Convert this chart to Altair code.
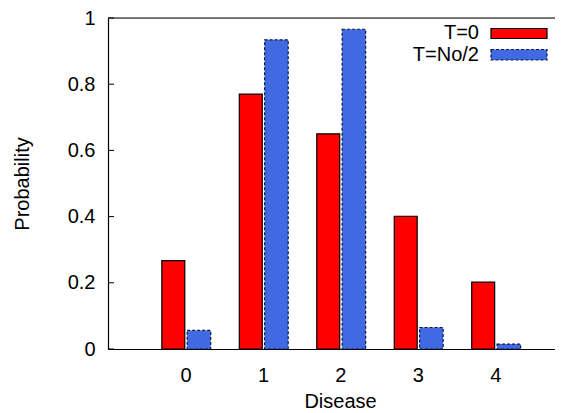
import altair as alt
import pandas as pd

disease = [0, 1, 2, 3, 4]
series_names = ["T=0", "T=No/2"]
t0_values = [0.267, 0.770, 0.650, 0.401, 0.202]
tno2_values = [0.056, 0.934, 0.966, 0.065, 0.015]
y_ticks = [0, 0.2, 0.4, 0.6, 0.8, 1]
colors = ["#ff0000", "#4169e1"]

FONT = "Liberation Sans"
FS = 20

df0 = pd.DataFrame({"disease": disease, "value": t0_values, "series": series_names[0]})
df1 = pd.DataFrame({"disease": disease, "value": tno2_values, "series": series_names[1]})
ticks_df = pd.DataFrame({"tick": y_ticks})

xscale = alt.Scale(domain=[-1, 4.77], nice=False, zero=False)
yscale = alt.Scale(domain=[0, 1], nice=False)

xaxis = alt.Axis(values=disease, format="d", ticks=False, grid=False, labelFontSize=FS,
                 labelFont=FONT, labelColor="black", labelPadding=16, domainColor="black",
                 domainWidth=1.2, title="Disease", titleFontSize=FS, titleFont=FONT,
                 titleFontWeight="normal", titleColor="black", titleX=232, titleY=52,
                 titleBaseline="middle")
yaxis = alt.Axis(values=y_ticks, format="~g", ticks=False, grid=False, labelFontSize=FS,
                 labelFont=FONT, labelColor="black", labelPadding=13, domainColor="black",
                 domainWidth=1.2, title="Probability", titleFontSize=FS, titleFont=FONT,
                 titleFontWeight="normal", titleColor="black", titleX=-86, titleY=165.5,
                 titleBaseline="middle")

red = alt.Chart(df0).transform_calculate(
    x1="datum.disease - 0.305", x2="datum.disease - 0.009"
).mark_bar(fill=colors[0], stroke="black", strokeWidth=1.2).encode(
    x=alt.X("x1:Q", scale=xscale, axis=xaxis),
    x2="x2:Q",
    y=alt.Y("value:Q", scale=yscale, axis=yaxis),
    y2=alt.datum(0),
)

blue = alt.Chart(df1).transform_calculate(
    x1="datum.disease + 0.022", x2="datum.disease + 0.326"
).mark_bar(fill=colors[1], stroke="#0b1a40", strokeWidth=1.2, strokeDash=[3, 2]).encode(
    x=alt.X("x1:Q", scale=xscale),
    x2="x2:Q",
    y=alt.Y("value:Q", scale=yscale),
    y2=alt.datum(0),
)

inner_ticks = alt.Chart(ticks_df).mark_rule(color="black", strokeWidth=1).encode(
    y=alt.Y("tick:Q", scale=yscale),
    x=alt.value(0),
    x2=alt.value(6),
)

top_border = alt.Chart(pd.DataFrame({"v": [1]})).mark_rule(color="black", strokeWidth=1.2).encode(
    y=alt.Y("v:Q", scale=yscale)
)

one = pd.DataFrame({"a": [0]})
leg_t0 = alt.Chart(pd.DataFrame({"name": [series_names[0]]})).mark_text(
    align="right", baseline="middle", fontSize=FS, font=FONT, color="black"
).encode(text="name:N", x=alt.value(371), y=alt.value(15))
leg_t1 = alt.Chart(pd.DataFrame({"name": [series_names[1]]})).mark_text(
    align="right", baseline="middle", fontSize=FS, font=FONT, color="black"
).encode(text="name:N", x=alt.value(371), y=alt.value(37))
sw0 = alt.Chart(one).mark_rect(fill=colors[0], stroke="black", strokeWidth=1.2).encode(
    x=alt.value(383), x2=alt.value(439), y=alt.value(10.5), y2=alt.value(20.5)
)
sw1 = alt.Chart(one).mark_rect(fill=colors[1], stroke="#0b1a40", strokeWidth=1.2,
                               strokeDash=[3, 2]).encode(
    x=alt.value(383), x2=alt.value(439), y=alt.value(31.5), y2=alt.value(42)
)

chart = alt.layer(red, blue, inner_ticks, top_border, leg_t0, leg_t1, sw0, sw1).properties(
    width=447, height=331,
    autosize=alt.AutoSizeParams(type="none"),
    padding={"left": 100, "top": 10, "right": 0, "bottom": 62},
).configure_view(stroke=None).configure(background="white")

chart.save("out.html", embed_options={"renderer": "svg", "actions": False})
